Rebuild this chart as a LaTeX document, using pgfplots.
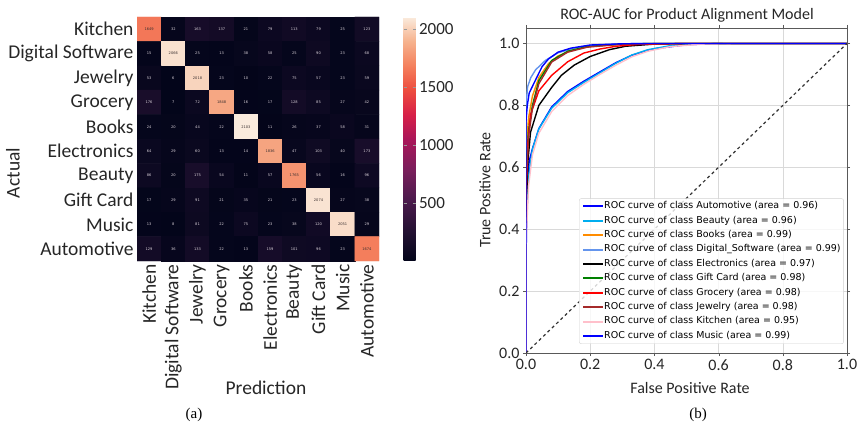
\documentclass[border=0pt]{standalone}
\usepackage{fontspec}
\setmainfont{Carlito}
\newfontfamily\dejavu{DejaVu Sans}
\newfontfamily\serifrm{Liberation Serif}
\usepackage{pgfplots}
\pgfplotsset{compat=1.18}
\usepackage{pgfplotstable}

\definecolor{cDsw}{HTML}{6495ED}
\definecolor{cOrg}{HTML}{FF8C00}
\definecolor{cBrn}{HTML}{A52A2A}
\definecolor{cPnk}{HTML}{FFC0CB}
\definecolor{cGrn}{HTML}{008000}
\definecolor{lighttxt}{HTML}{D8D0D8}
\definecolor{darktxt}{HTML}{3A3030}

% rocket-like colormap
\pgfplotsset{colormap={rocket}{rgb255(0cm)=(3,5,26) rgb255(12cm)=(35,17,50) rgb255(25cm)=(75,26,76)
  rgb255(37cm)=(120,30,91) rgb255(50cm)=(170,22,89) rgb255(60cm)=(215,32,72) rgb255(70cm)=(237,76,62)
  rgb255(80cm)=(244,128,93) rgb255(90cm)=(246,178,141) rgb255(100cm)=(250,235,221)}}

% confusion matrix, x = prediction, y = actual
\pgfplotstableread{
x y v
0 0 1649
1 0 32
2 0 163
3 0 137
4 0 21
5 0 79
6 0 113
7 0 79
8 0 25
9 0 123
0 1 15
1 1 2066
2 1 25
3 1 13
4 1 38
5 1 58
6 1 25
7 1 90
8 1 23
9 1 68
0 2 53
1 2 6
2 2 2018
3 2 23
4 2 10
5 2 22
6 2 75
7 2 57
8 2 23
9 2 59
0 3 176
1 3 7
2 3 72
3 3 1848
4 3 16
5 3 17
6 3 128
7 3 85
8 3 27
9 3 42
0 4 24
1 4 20
2 4 44
3 4 22
4 4 2103
5 4 11
6 4 26
7 4 37
8 4 58
9 4 31
0 5 64
1 5 29
2 5 60
3 5 13
4 5 14
5 5 1836
6 5 47
7 5 103
8 5 40
9 5 173
0 6 86
1 6 20
2 6 175
3 6 54
4 6 11
5 6 57
6 6 1765
7 6 56
8 6 16
9 6 96
0 7 17
1 7 29
2 7 91
3 7 21
4 7 35
5 7 21
6 7 23
7 7 2074
8 7 27
9 7 38
0 8 13
1 8 8
2 8 81
3 8 22
4 8 75
5 8 23
6 8 38
7 8 120
8 8 2051
9 8 29
0 9 129
1 9 36
2 9 133
3 9 22
4 9 13
5 9 159
6 9 101
7 9 96
8 9 23
9 9 1674
}\cmtab

\begin{document}
\begin{tikzpicture}[x=1pt,y=1pt]
\path[use as bounding box] (0,0) rectangle (858,428);

% ---------- (a) confusion matrix ----------
\begin{axis}[
    at={(137pt,167pt)}, anchor=south west,
    scale only axis, width=242pt, height=244pt,
    xmin=-0.5, xmax=9.5, ymin=-0.5, ymax=9.5,
    y dir=reverse, enlargelimits=false,
    axis line style={draw=none}, major tick length=0pt,
    xtick={0,...,9}, ytick={0,...,9},
    xticklabels={Kitchen,Digital Software,Jewelry,Grocery,Books,Electronics,Beauty,Gift Card,Music,Automotive},
    yticklabels={Kitchen,Digital Software,Jewelry,Grocery,Books,Electronics,Beauty,Gift Card,Music,Automotive},
    xticklabel style={rotate=90, anchor=east, font=\fontsize{19.5}{20}\selectfont, text=black!85},
    yticklabel style={anchor=east, font=\fontsize{19.5}{20}\selectfont, text=black!85},
    colormap name=rocket,
    point meta min=6, point meta max=2103,
    colorbar,
    colorbar style={
        at={(parent axis.north east)}, anchor=north west, xshift=16pt,
        width=12pt,
        ytick={500,1000,1500,2000},
        yticklabel style={font=\fontsize{17}{17}\selectfont, text=black!85,
            /pgf/number format/assume math mode=true, /pgf/number format/1000 sep={}},
        axis line style={draw=none},
        major tick length=3pt, tick style={black!40},
    },
  ]
  \addplot[matrix plot*, draw=none, mesh/cols=10, point meta=explicit] table[x=x, y=y, meta=v] {\cmtab};
  \addplot[draw=none, point meta=explicit symbolic,
      nodes near coords={\ifnum\pgfplotspointmeta>1000 \color{darktxt}\else\color{lighttxt}\fi\pgfplotspointmeta},
      nodes near coords style={anchor=center, inner sep=0pt, font=\dejavu\fontsize{3.6}{4}\selectfont}]
      table[x=x, y=y, meta=v] {\cmtab};
\end{axis}

\node[rotate=90, font=\fontsize{19.5}{20}\selectfont, text=black!85] at (13,255) {Actual};
\node[font=\fontsize{19.5}{20}\selectfont, text=black!85] at (266,40) {Prediction};
\node[font=\serifrm\fontsize{15}{15}\selectfont] at (194,13) {(a)};

% ---------- (b) ROC curves ----------
\begin{axis}[
    at={(526pt,75pt)}, anchor=south west,
    scale only axis, width=321pt, height=325pt,
    xmin=0, xmax=1, ymin=0, ymax=1.05,
    xtick={0,0.2,0.4,0.6,0.8,1}, ytick={0,0.2,0.4,0.6,0.8,1},
    grid=major, grid style={black!15, line width=0.6pt},
    axis line style={black!65}, tick align=outside, major tick length=3pt, tick style={black!65},
    ticklabel style={font=\fontsize{16}{16}\selectfont, text=black!85},
    /pgf/number format/.cd, fixed, fixed zerofill, precision=1, assume math mode=true,
    /pgfplots/.cd,
    legend cell align=left,
    legend style={at={(0.99,0.028)}, anchor=south east,
        font=\dejavu\fontsize{9.5}{11}\selectfont,
        draw=black!18, rounded corners=2pt, fill=white, fill opacity=0.8, text opacity=1,
        inner xsep=3pt, inner ysep=3pt, row sep=4.9pt,
        nodes={inner sep=0pt, text height=7pt, text depth=2.5pt},
        /tikz/every even column/.append style={column sep=7pt}},
    legend image code/.code={\draw[#1, line width=2pt] (0pt,0pt) -- (20pt,0pt);},
    every axis plot/.append style={line width=1.4pt, line join=round},
  ]
  \addplot[blue] coordinates {(0,0) (0,0.30) (0.004,0.55) (0.01,0.62) (0.02,0.66) (0.04,0.725) (0.08,0.795) (0.13,0.845) (0.18,0.878) (0.23,0.908) (0.28,0.938) (0.33,0.962) (0.40,0.983) (0.50,0.996) (0.60,1) (1,1)};
  \addlegendentry{ROC curve of class Automotive (area = 0.96)}
  \addplot[cyan] coordinates {(0,0) (0,0.40) (0.008,0.57) (0.02,0.658) (0.04,0.724) (0.08,0.791) (0.13,0.841) (0.18,0.874) (0.23,0.905) (0.28,0.936) (0.33,0.963) (0.38,0.98) (0.45,0.993) (0.55,0.999) (0.65,1) (1,1)};
  \addlegendentry{ROC curve of class Beauty (area = 0.96)}
  \addplot[cOrg] coordinates {(0,0) (0,0.65) (0.008,0.76) (0.02,0.83) (0.04,0.89) (0.07,0.935) (0.10,0.96) (0.15,0.98) (0.20,0.99) (0.30,0.998) (0.40,1) (1,1)};
  \addlegendentry{ROC curve of class Books (area = 0.99)}
  \addplot[cDsw] coordinates {(0,0) (0,0.80) (0.005,0.86) (0.015,0.89) (0.03,0.915) (0.06,0.945) (0.10,0.97) (0.15,0.985) (0.20,0.994) (0.30,0.999) (0.40,1) (1,1)};
  \addlegendentry{ROC curve of class Digital\_Software (area = 0.99)}
  \addplot[black] coordinates {(0,0) (0,0.45) (0.006,0.62) (0.014,0.713) (0.04,0.80) (0.08,0.858) (0.11,0.897) (0.15,0.93) (0.20,0.958) (0.26,0.98) (0.31,0.991) (0.40,0.998) (0.50,1) (1,1)};
  \addlegendentry{ROC curve of class Electronics (area = 0.97)}
  \addplot[cGrn] coordinates {(0,0) (0,0.60) (0.008,0.72) (0.02,0.80) (0.04,0.88) (0.08,0.945) (0.13,0.975) (0.19,0.99) (0.30,0.998) (0.40,1) (1,1)};
  \addlegendentry{ROC curve of class Gift Card (area = 0.98)}
  \addplot[red] coordinates {(0,0) (0,0.50) (0.006,0.68) (0.014,0.77) (0.04,0.847) (0.08,0.897) (0.13,0.941) (0.18,0.969) (0.23,0.982) (0.28,0.991) (0.35,0.997) (0.50,1) (1,1)};
  \addlegendentry{ROC curve of class Grocery (area = 0.98)}
  \addplot[cBrn] coordinates {(0,0) (0,0.55) (0.008,0.70) (0.02,0.79) (0.04,0.87) (0.08,0.94) (0.13,0.972) (0.19,0.988) (0.30,0.998) (0.45,1) (1,1)};
  \addlegendentry{ROC curve of class Jewelry (area = 0.98)}
  \addplot[cPnk] coordinates {(0,0) (0,0.35) (0.008,0.54) (0.02,0.64) (0.04,0.71) (0.08,0.78) (0.13,0.832) (0.18,0.868) (0.23,0.90) (0.28,0.93) (0.33,0.957) (0.38,0.975) (0.45,0.99) (0.55,0.998) (0.65,1) (1,1)};
  \addlegendentry{ROC curve of class Kitchen (area = 0.95)}
  \addplot[blue] coordinates {(0,0) (0,0.75) (0.004,0.80) (0.01,0.84) (0.024,0.87) (0.05,0.925) (0.07,0.95) (0.10,0.972) (0.14,0.985) (0.20,0.995) (0.30,0.999) (0.40,1) (1,1)};
  \addlegendentry{ROC curve of class Music (area = 0.99)}
  \addplot[black!80, dashed, line width=1.2pt, forget plot] coordinates {(0,0) (1,1)};
\end{axis}

\node[font=\fontsize{16}{16}\selectfont, text=black!85] at (687,413) {ROC-AUC for Product Alignment Model};
\node[rotate=90, font=\fontsize{16}{16}\selectfont, text=black!85] at (485,238) {True Positive Rate};
\node[font=\fontsize{16}{16}\selectfont, text=black!85] at (690,40) {False Positive Rate};
\node[font=\serifrm\fontsize{15}{15}\selectfont] at (698,13) {(b)};
\end{tikzpicture}
\end{document}
